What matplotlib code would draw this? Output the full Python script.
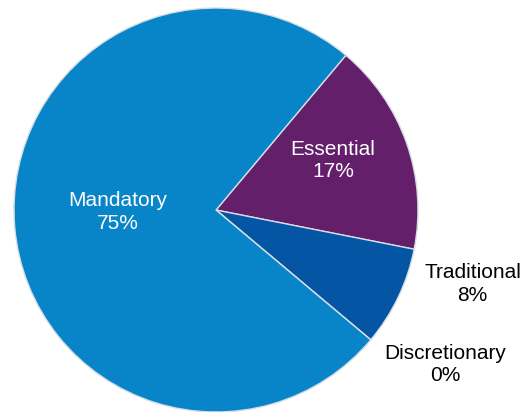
import numpy as np
import matplotlib.pyplot as plt

plt.rcParams['font.family'] = ['Liberation Sans', 'DejaVu Sans']

categories = ['Essential', 'Traditional', 'Discretionary', 'Mandatory']
shares = [17, 8, 0, 75]
colors = ['#641f6b', '#0456a5', '#0456a5', '#0885c8']
text_colors = ['white', 'black', 'black', 'white']

# label centres in pie units (radius = 1)
label_pos = [(0.58, 0.245), (1.27, -0.365), (1.135, -0.765), (-0.485, -0.01)]

fig = plt.figure(figsize=(5.25, 4.12), dpi=100)
ax = fig.add_axes([0, 0, 1, 1])

ax.pie(shares, colors=colors, startangle=50, counterclock=False,
       wedgeprops=dict(edgecolor='#d6dde6', linewidth=1.0))

for name, share, pos, tc in zip(categories, shares, label_pos, text_colors):
    ax.text(pos[0], pos[1], "{}\n{}%".format(name, share), color=tc,
            fontsize=15, ha='center', va='center', linespacing=1.25)

ax.set_xlim(-216 / 202, (525 - 216) / 202)
ax.set_ylim(-(412 - 210) / 202, 210 / 202)
ax.set_aspect('auto')
ax.axis('off')

fig.savefig("out.png", dpi=100)
